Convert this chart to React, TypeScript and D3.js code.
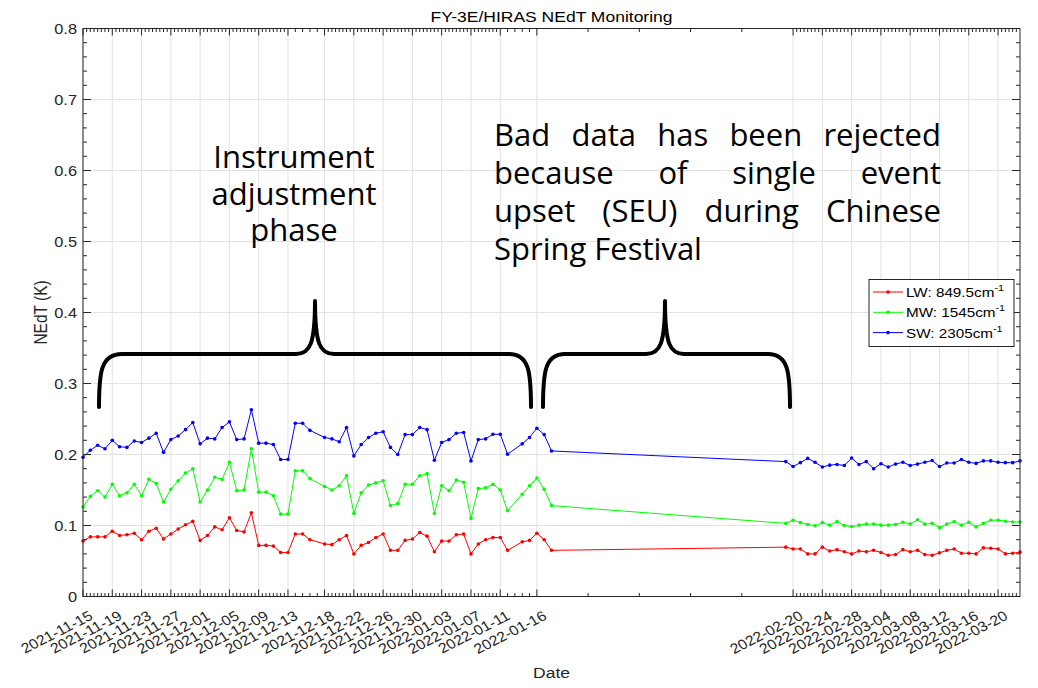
import React, { useMemo } from 'react';
import * as d3 from 'd3';

// ---- data -------------------------------------------------------------
const obsDates = [
  '2021-11-15', '2021-11-16', '2021-11-17', '2021-11-18', '2021-11-19', '2021-11-20', '2021-11-21', '2021-11-22',
  '2021-11-23', '2021-11-24', '2021-11-25', '2021-11-26', '2021-11-27', '2021-11-28', '2021-11-29', '2021-11-30',
  '2021-12-01', '2021-12-02', '2021-12-03', '2021-12-04', '2021-12-05', '2021-12-06', '2021-12-07', '2021-12-08',
  '2021-12-09', '2021-12-10', '2021-12-11', '2021-12-12', '2021-12-13', '2021-12-14', '2021-12-15', '2021-12-16',
  '2021-12-18', '2021-12-19', '2021-12-20', '2021-12-21', '2021-12-22', '2021-12-23', '2021-12-24', '2021-12-25',
  '2021-12-26', '2021-12-27', '2021-12-28', '2021-12-29', '2021-12-30', '2021-12-31', '2022-01-01', '2022-01-02',
  '2022-01-03', '2022-01-04', '2022-01-05', '2022-01-06', '2022-01-07', '2022-01-08', '2022-01-09', '2022-01-10',
  '2022-01-11', '2022-01-12', '2022-01-14', '2022-01-15', '2022-01-16', '2022-01-17', '2022-01-18',
  '2022-02-19', '2022-02-20', '2022-02-21', '2022-02-22', '2022-02-23', '2022-02-24', '2022-02-25', '2022-02-26',
  '2022-02-27', '2022-02-28', '2022-03-01', '2022-03-02', '2022-03-03', '2022-03-04', '2022-03-05', '2022-03-06',
  '2022-03-07', '2022-03-08', '2022-03-09', '2022-03-10', '2022-03-11', '2022-03-12', '2022-03-13', '2022-03-14',
  '2022-03-15', '2022-03-16', '2022-03-17', '2022-03-18', '2022-03-19', '2022-03-20', '2022-03-21', '2022-03-22',
  '2022-03-23',
];

// LW: 849.5 cm-1
const lwNedt = [
  0.078, 0.084, 0.084, 0.084, 0.092, 0.086, 0.087, 0.089, 0.080, 0.092, 0.096, 0.081, 0.088, 0.095, 0.101, 0.106,
  0.079, 0.086, 0.098, 0.094, 0.111, 0.093, 0.091, 0.118, 0.072, 0.072, 0.071, 0.062, 0.062, 0.088, 0.088, 0.080,
  0.074, 0.073, 0.080, 0.086, 0.060, 0.072, 0.076, 0.083, 0.088, 0.065, 0.065, 0.079, 0.081, 0.090, 0.085, 0.063,
  0.078, 0.078, 0.087, 0.088, 0.060, 0.074, 0.080, 0.083, 0.083, 0.065, 0.077, 0.079, 0.089, 0.080, 0.065,
  0.0695, 0.067, 0.067, 0.060, 0.060, 0.0695, 0.064, 0.066, 0.063, 0.060, 0.064, 0.063, 0.065, 0.062, 0.058, 0.059,
  0.066, 0.063, 0.065, 0.059, 0.058, 0.0615, 0.065, 0.067, 0.061, 0.061, 0.060, 0.0685, 0.068, 0.067, 0.060, 0.061,
  0.0625,
];

// MW: 1545 cm-1
const mwNedt = [
  0.126, 0.141, 0.149, 0.140, 0.158, 0.142, 0.146, 0.158, 0.142, 0.165, 0.159, 0.133, 0.151, 0.163, 0.174, 0.180,
  0.133, 0.150, 0.168, 0.165, 0.189, 0.149, 0.150, 0.208, 0.147, 0.147, 0.142, 0.116, 0.116, 0.177, 0.177, 0.166,
  0.155, 0.150, 0.156, 0.170, 0.117, 0.146, 0.157, 0.160, 0.163, 0.128, 0.131, 0.158, 0.158, 0.170, 0.173, 0.117,
  0.156, 0.149, 0.164, 0.161, 0.110, 0.152, 0.153, 0.158, 0.150, 0.121, 0.144, 0.156, 0.167, 0.151, 0.128,
  0.103, 0.1075, 0.104, 0.1015, 0.0995, 0.104, 0.1005, 0.1055, 0.100, 0.0985, 0.1005, 0.102, 0.102, 0.1005, 0.1005, 0.1015,
  0.1045, 0.102, 0.108, 0.102, 0.103, 0.097, 0.102, 0.1055, 0.1005, 0.1045, 0.098, 0.103, 0.1075, 0.1075, 0.106, 0.105,
  0.105,
];

// SW: 2305 cm-1
const swNedt = [
  0.196, 0.206, 0.213, 0.208, 0.220, 0.211, 0.210, 0.219, 0.217, 0.223, 0.230, 0.203, 0.221, 0.226, 0.235, 0.245,
  0.215, 0.223, 0.222, 0.238, 0.246, 0.221, 0.222, 0.263, 0.216, 0.216, 0.214, 0.193, 0.193, 0.244, 0.244, 0.234,
  0.224, 0.222, 0.218, 0.238, 0.198, 0.214, 0.224, 0.230, 0.232, 0.210, 0.200, 0.228, 0.228, 0.238, 0.235, 0.192,
  0.217, 0.221, 0.230, 0.231, 0.191, 0.221, 0.222, 0.2285, 0.2285, 0.2005, 0.215, 0.224, 0.237, 0.228, 0.205,
  0.190, 0.183, 0.1885, 0.1945, 0.189, 0.1825, 0.185, 0.186, 0.1845, 0.195, 0.186, 0.190, 0.180, 0.187, 0.1825, 0.1865,
  0.189, 0.1845, 0.1865, 0.189, 0.1915, 0.183, 0.188, 0.188, 0.193, 0.189, 0.1875, 0.191, 0.191, 0.189, 0.1885, 0.1885,
  0.191,
];

const seriesNames = ['LW: 849.5cm', 'MW: 1545cm', 'SW: 2305cm'];
const seriesColors = ['#ff0000', '#00ff00', '#0000ff'];

const xTickLabels = [
  '2021-11-15', '2021-11-19', '2021-11-23', '2021-11-27', '2021-12-01', '2021-12-05', '2021-12-09', '2021-12-13',
  '2021-12-18', '2021-12-22', '2021-12-26', '2021-12-30', '2022-01-03', '2022-01-07', '2022-01-11', '2022-01-16',
  '2022-02-20', '2022-02-24', '2022-02-28', '2022-03-04', '2022-03-08', '2022-03-12', '2022-03-16', '2022-03-20',
];
const yTickValues = [0, 0.1, 0.2, 0.3, 0.4, 0.5, 0.6, 0.7, 0.8];

const leftNote = ['Instrument', 'adjustment', 'phase'];
const rightNote = ['Bad data has been rejected', 'because of single event', 'upset (SEU) during Chinese', 'Spring Festival'];

// ---- layout -----------------------------------------------------------
const W = 1038;
const H = 688;
const PLOT = { left: 83, right: 1020, top: 28.5, bottom: 596.5 };
const AXIS_COLOR = '#262626';
const GRID_COLOR = '#e2e2e2';
const FONT = "'Liberation Sans', Arial, Helvetica, sans-serif";
const NOTE_FONT = "'Open Sans', 'Noto Sans', sans-serif";
const SX = 1.13; // horizontal stretch of the figure's text

const parse = d3.utcParse('%Y-%m-%d');
const DAY = 86400000;

function measure(text: string, font: string): number {
  const c = document.createElement('canvas').getContext('2d');
  if (!c) return text.length * 15;
  c.font = font;
  return c.measureText(text).width;
}

export default function App() {
  const x = useMemo(
    () =>
      d3
        .scaleUtc()
        .domain([parse(obsDates[0])!, parse(obsDates[obsDates.length - 1])!])
        .range([PLOT.left, PLOT.right]),
    []
  );
  const y = useMemo(() => d3.scaleLinear().domain([0, 0.8]).range([PLOT.bottom, PLOT.top]), []);

  const series = [lwNedt, mwNedt, swNedt].map((vals, i) => ({
    name: seriesNames[i],
    color: seriesColors[i],
    points: vals.map((v, j) => ({ t: parse(obsDates[j])!, v })),
  }));

  const line = d3
    .line<{ t: Date; v: number }>()
    .x((d) => x(d.t))
    .y((d) => y(d.v));

  const majorDates = xTickLabels.map((s) => parse(s)!);

  // minor ticks: half-day steps between 4-day majors, daily for 5-day, weekly across the gap
  const minorDates: Date[] = [];
  const domainEnd = x.domain()[1];
  const bounds = [...majorDates, domainEnd];
  for (let i = 0; i < bounds.length - 1; i++) {
    const a = +bounds[i];
    const b = +bounds[i + 1];
    const span = (b - a) / DAY;
    const step = span > 10 ? 7 * DAY : span === 5 ? DAY : DAY / 2;
    for (let t = a + step; t < b - 1; t += step) minorDates.push(new Date(t));
  }

  const yMinor = d3.range(0, 0.8001, 0.02).filter((v) => Math.abs(v * 10 - Math.round(v * 10)) > 1e-6);

  // justified paragraph for the right-hand note
  const noteSize = 31;
  const noteFontCss = `${noteSize}px ${NOTE_FONT}`;
  const rightLeft = 494;
  const rightRight = 941;
  const justified = rightNote.map((ln, li) => {
    const words = ln.split(' ');
    const widths = words.map((w) => measure(w, noteFontCss));
    const last = li === rightNote.length - 1;
    const gap = last
      ? measure(' ', noteFontCss)
      : (rightRight - rightLeft - d3.sum(widths)) / Math.max(1, words.length - 1);
    let cx = rightLeft;
    return words.map((w, k) => {
      const pos = cx;
      cx += widths[k] + gap;
      return { w, pos };
    });
  });

  const tickLenX = 7;
  const tickLenXMinor = 3.5;
  const tickLenY = 8;
  const tickLenYMinor = 4;

  return (
    <svg
      width={W}
      height={H}
      style={{ position: 'absolute', left: 0, top: 0, background: '#fff' }}
      fontFamily={FONT}
    >
      <rect x={0} y={0} width={W} height={H} fill="#fff" />

      {/* grid */}
      <g stroke={GRID_COLOR} strokeWidth={1}>
        {majorDates.map((d, i) => (
          <line key={'gx' + i} x1={x(d)} x2={x(d)} y1={PLOT.top} y2={PLOT.bottom} />
        ))}
        {yTickValues.map((v, i) => (
          <line key={'gy' + i} x1={PLOT.left} x2={PLOT.right} y1={y(v)} y2={y(v)} />
        ))}
      </g>

      {/* series */}
      {series.map((s) => (
        <g key={s.name}>
          <path d={line(s.points) || ''} fill="none" stroke={s.color} strokeWidth={1} />
          {s.points.map((p, j) => (
            <circle key={j} cx={x(p.t)} cy={y(p.v)} r={1.8} fill={s.color} />
          ))}
        </g>
      ))}

      {/* axes box and ticks */}
      <g stroke={AXIS_COLOR} strokeWidth={1} fill="none">
        <rect x={PLOT.left} y={PLOT.top} width={PLOT.right - PLOT.left} height={PLOT.bottom - PLOT.top} />
        {majorDates.map((d, i) => (
          <g key={'mx' + i}>
            <line x1={x(d)} x2={x(d)} y1={PLOT.bottom} y2={PLOT.bottom - tickLenX} />
            <line x1={x(d)} x2={x(d)} y1={PLOT.top} y2={PLOT.top + tickLenX} />
          </g>
        ))}
        {minorDates.map((d, i) => (
          <g key={'nx' + i}>
            <line x1={x(d)} x2={x(d)} y1={PLOT.bottom} y2={PLOT.bottom - tickLenXMinor} />
            <line x1={x(d)} x2={x(d)} y1={PLOT.top} y2={PLOT.top + tickLenXMinor} />
          </g>
        ))}
        {yTickValues.map((v, i) => (
          <g key={'my' + i}>
            <line x1={PLOT.left} x2={PLOT.left + tickLenY} y1={y(v)} y2={y(v)} />
            <line x1={PLOT.right} x2={PLOT.right - tickLenY} y1={y(v)} y2={y(v)} />
          </g>
        ))}
        {yMinor.map((v, i) => (
          <g key={'ny' + i}>
            <line x1={PLOT.left} x2={PLOT.left + tickLenYMinor} y1={y(v)} y2={y(v)} />
            <line x1={PLOT.right} x2={PLOT.right - tickLenYMinor} y1={y(v)} y2={y(v)} />
          </g>
        ))}
      </g>

      {/* y tick labels */}
      <g fill={AXIS_COLOR} fontSize={14.5}>
        {yTickValues.map((v, i) => (
          <text
            key={'ly' + i}
            transform={`translate(${PLOT.left - 6},${y(v) + 5}) scale(${SX},1)`}
            textAnchor="end"
          >
            {d3.format('~g')(v)}
          </text>
        ))}
      </g>

      {/* x tick labels */}
      <g fill={AXIS_COLOR} fontSize={14}>
        {majorDates.map((d, i) => (
          <text
            key={'lx' + i}
            transform={`translate(${x(d) + 5},${PLOT.bottom + 13}) scale(${SX},1) rotate(-30)`}
            textAnchor="end"
            dominantBaseline="hanging"
          >
            {xTickLabels[i]}
          </text>
        ))}
      </g>

      {/* title and axis labels */}
      <text
        transform={`translate(${(PLOT.left + PLOT.right) / 2},22) scale(${SX},1)`}
        textAnchor="middle"
        fontSize={15.5}
        fill="#000"
      >
        FY-3E/HIRAS NEdT Monitoring
      </text>
      <text
        transform={`translate(${(PLOT.left + PLOT.right) / 2},678) scale(${SX},1)`}
        textAnchor="middle"
        fontSize={15.5}
        fill={AXIS_COLOR}
      >
        Date
      </text>
      <text
        transform={`translate(47,${(PLOT.top + PLOT.bottom) / 2}) scale(${SX},1) rotate(-90)`}
        textAnchor="middle"
        fontSize={15.5}
        fill={AXIS_COLOR}
      >
        NEdT (K)
      </text>

      {/* legend */}
      <g>
        <rect x={869} y={279.5} width={145} height={67} fill="#fff" stroke={AXIS_COLOR} strokeWidth={1} />
        {series.map((s, i) => {
          const ly = 292 + i * 20.3;
          return (
            <g key={'lg' + i}>
              <line x1={873} x2={903} y1={ly} y2={ly} stroke={s.color} strokeWidth={1} />
              <circle cx={888} cy={ly} r={1.8} fill={s.color} />
              <text
                transform={`translate(906,${ly + 5}) scale(${SX},1)`}
                fontSize={13.5}
                fill="#000"
              >
                {s.name}
                <tspan fontSize={9.5} dy={-6}>
                  -1
                </tspan>
              </text>
            </g>
          );
        })}
      </g>

      {/* annotations */}
      <g fontFamily={NOTE_FONT} fontSize={noteSize} fill="#000">
        {leftNote.map((t, i) => (
          <text key={'ln' + i} x={294} y={168 + i * 36.5} textAnchor="middle">
            {t}
          </text>
        ))}
        {justified.map((words, li) =>
          words.map((w, k) => (
            <text key={'rn' + li + '-' + k} x={w.pos} y={146 + li * 38}>
              {w.w}
            </text>
          ))
        )}
      </g>

      {/* braces */}
      <g fill="none" stroke="#000" strokeWidth={4} strokeLinecap="round" strokeLinejoin="round">
        <path d="M99,407 C99,372 101,354 122,354 L296,354 C310,354 315,344 315,301 C315,344 320,354 334,354 L509,354 C529,354 531,372 531,407" />
        <path d="M543,407 C543,372 545,354 565,354 L646,354 C660,354 665,344 665,301 C665,344 670,354 684,354 L768,354 C788,354 790,372 790,407" />
      </g>
    </svg>
  );
}
